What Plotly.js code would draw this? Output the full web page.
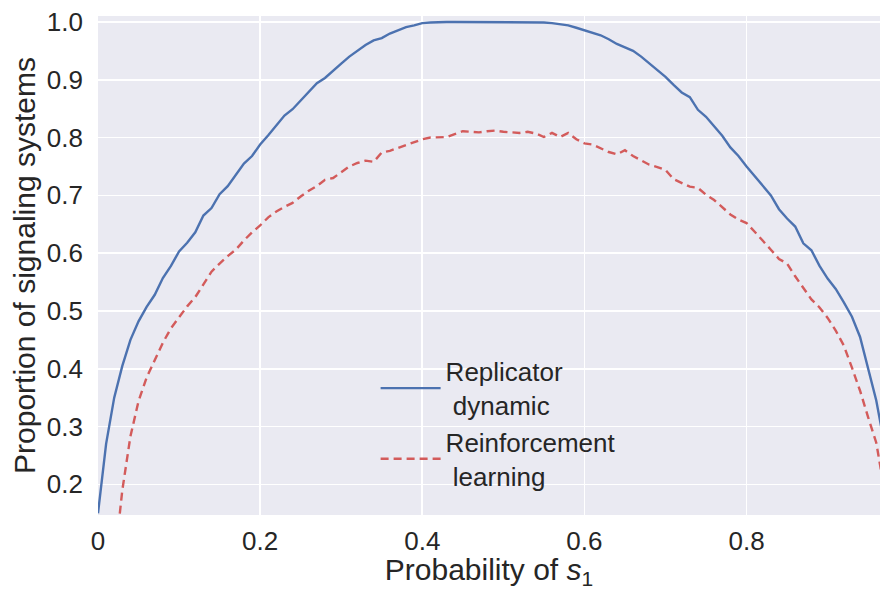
<!DOCTYPE html>
<html>
<head>
<meta charset="utf-8">
<script src="https://cdn.plot.ly/plotly-3.0.1.min.js"></script>
<style>html,body{margin:0;padding:0;background:#fff;}#chart{width:880px;height:590px;}</style>
</head>
<body>
<div id="chart"></div>
<script>
// Probability of s1 (x) for each series
const xReplicator = [0.00,0.01,0.02,0.03,0.04,0.05,0.06,0.07,0.08,0.09,0.10,0.11,0.12,0.13,0.14,0.15,0.16,0.17,0.18,0.19,0.20,0.21,0.22,0.23,0.24,0.25,0.26,0.27,0.28,0.29,0.30,0.31,0.32,0.33,0.34,0.35,0.36,0.37,0.38,0.39,0.40,0.41,0.42,0.43,0.44,0.45,0.46,0.47,0.48,0.49,0.50,0.51,0.52,0.53,0.54,0.55,0.56,0.57,0.58,0.59,0.60,0.61,0.62,0.63,0.64,0.65,0.66,0.67,0.68,0.69,0.70,0.71,0.72,0.73,0.74,0.75,0.76,0.77,0.78,0.79,0.80,0.81,0.82,0.83,0.84,0.85,0.86,0.87,0.88,0.89,0.90,0.91,0.92,0.93,0.94,0.95,0.96,0.97];
const yReplicator = [0.150,0.270,0.350,0.405,0.450,0.482,0.507,0.528,0.557,0.578,0.603,0.618,0.636,0.665,0.678,0.702,0.716,0.735,0.755,0.768,0.788,0.804,0.822,0.838,0.849,0.864,0.880,0.894,0.903,0.916,0.928,0.940,0.950,0.960,0.968,0.972,0.980,0.986,0.991,0.994,0.998,0.999,1.000,1.000,1.000,1.000,1.000,1.000,1.000,1.000,1.000,1.000,1.000,1.000,1.000,0.999,0.998,0.996,0.994,0.990,0.986,0.981,0.977,0.970,0.962,0.956,0.950,0.940,0.928,0.917,0.905,0.891,0.878,0.870,0.848,0.836,0.820,0.803,0.783,0.768,0.750,0.733,0.716,0.700,0.676,0.660,0.646,0.617,0.605,0.578,0.556,0.538,0.515,0.490,0.455,0.400,0.345,0.270];

const xReinforcement = [0.02,0.03,0.04,0.05,0.06,0.07,0.08,0.09,0.10,0.11,0.12,0.13,0.14,0.15,0.16,0.17,0.18,0.19,0.20,0.21,0.22,0.23,0.24,0.25,0.26,0.27,0.28,0.29,0.30,0.31,0.32,0.33,0.34,0.35,0.36,0.37,0.38,0.39,0.40,0.41,0.42,0.43,0.44,0.45,0.46,0.47,0.48,0.49,0.50,0.51,0.52,0.53,0.54,0.55,0.56,0.57,0.58,0.59,0.60,0.61,0.62,0.63,0.64,0.65,0.66,0.67,0.68,0.69,0.70,0.71,0.72,0.73,0.74,0.75,0.76,0.77,0.78,0.79,0.80,0.81,0.82,0.83,0.84,0.85,0.86,0.87,0.88,0.89,0.90,0.91,0.92,0.93,0.94,0.95,0.96,0.97];
const yReinforcement = [0.060,0.190,0.283,0.344,0.385,0.416,0.445,0.470,0.490,0.508,0.524,0.546,0.568,0.582,0.595,0.606,0.622,0.636,0.648,0.662,0.672,0.680,0.687,0.698,0.708,0.716,0.727,0.730,0.740,0.750,0.756,0.760,0.758,0.774,0.777,0.782,0.788,0.792,0.797,0.800,0.800,0.801,0.806,0.811,0.810,0.809,0.811,0.812,0.810,0.809,0.808,0.810,0.807,0.801,0.808,0.801,0.808,0.797,0.790,0.788,0.781,0.775,0.771,0.778,0.768,0.760,0.753,0.749,0.744,0.728,0.722,0.715,0.713,0.701,0.692,0.680,0.667,0.658,0.652,0.637,0.622,0.606,0.590,0.582,0.560,0.540,0.520,0.506,0.488,0.466,0.440,0.402,0.362,0.316,0.272,0.190];

const seriesNames = ['Replicator<br> dynamic', 'Reinforcement<br> learning'];
const xTicks = [0, 0.2, 0.4, 0.6, 0.8];
const xTickText = ['0', '0.2', '0.4', '0.6', '0.8'];
const yTicks = [0.2, 0.3, 0.4, 0.5, 0.6, 0.7, 0.8, 0.9, 1.0];
const yTickText = ['0.2', '0.3', '0.4', '0.5', '0.6', '0.7', '0.8', '0.9', '1.0'];

const font = 'Liberation Sans, Arial, sans-serif';

const traces = [
  {x: xReplicator, y: yReplicator, name: seriesNames[0], type: 'scatter', mode: 'lines',
   line: {color: '#4c72b0', width: 2.4}},
  {x: xReinforcement, y: yReinforcement, name: seriesNames[1], type: 'scatter', mode: 'lines',
   line: {color: '#d35b5b', width: 2.4, dash: '8px,5px'}}
];

const layout = {
  width: 880, height: 590,
  margin: {l: 98, r: 0, t: 16, b: 75},
  paper_bgcolor: '#ffffff',
  plot_bgcolor: '#eaeaf2',
  font: {family: font, color: '#262626', size: 26},
  showlegend: true,
  legend: {x: 0.355, y: 0.335, xanchor: 'left', yanchor: 'top', bgcolor: 'rgba(0,0,0,0)',
           font: {size: 26, color: '#262626'}, tracegroupgap: 6, itemwidth: 60},
  xaxis: {range: [0, 0.9646], tickvals: xTicks, ticktext: xTickText, showgrid: true,
          gridcolor: '#ffffff', gridwidth: 1.6, zeroline: false, showline: false, ticks: '',
          ticklabelstandoff: 8, tickfont: {size: 26},
          title: {text: 'Probability of <i>s</i><sub>1</sub>', font: {size: 30}, standoff: 20}},
  yaxis: {range: [0.147, 1.0103], tickvals: yTicks, ticktext: yTickText, showgrid: true,
          gridcolor: '#ffffff', gridwidth: 1.6, zeroline: false, showline: false, ticks: '',
          ticklabelstandoff: 14, tickfont: {size: 26},
          title: {text: 'Proportion of signaling systems', font: {size: 30}, standoff: 2}}
};

Plotly.newPlot('chart', traces, layout, {displayModeBar: false, staticPlot: true});
</script>
</body>
</html>
